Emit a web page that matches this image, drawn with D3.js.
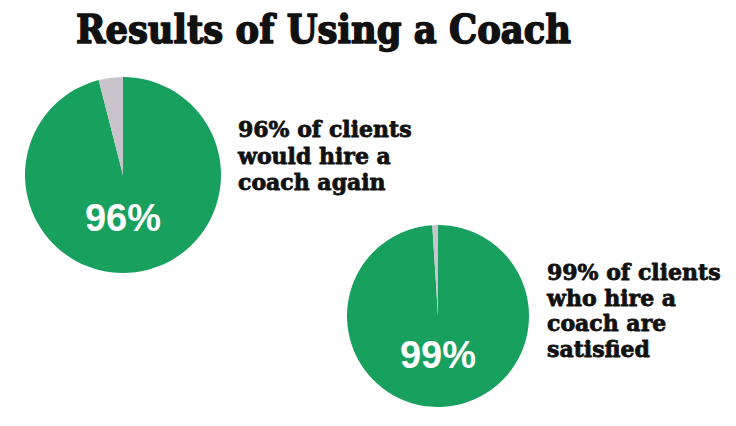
<!DOCTYPE html>
<html><head><meta charset="utf-8">
<script src="https://cdn.jsdelivr.net/npm/d3@7"></script>
<style>html,body{margin:0;padding:0;background:#fff;}svg{display:block;}</style>
</head><body>
<svg id="c" width="736" height="426"></svg>
<script>
const title = "Results of Using a Coach";
const categories = ["Would hire a coach again", "Satisfied with coach"];
const yesValues = [96, 99];
const noValues = [4, 1];
const centerLabels = ["96%", "99%"];
const captions = [
  ["96% of clients", "would hire a", "coach again"],
  ["99% of clients", "who hire a", "coach are", "satisfied"]
];

const layout = [
  {cx: 123, cy: 175, r: 98, lx: 238, ly: 137, ls: 26.5, textY: 231},
  {cx: 438, cy: 316, r: 91, lx: 547, ly: 280, ls: 25.7, textY: 368}
];
const colors = ["#18a05e", "#c9c4cc"];

const svg = d3.select("#c");
svg.append("rect").attr("width", 736).attr("height", 426).attr("fill", "#ffffff");

svg.append("text").attr("x", 76).attr("y", 43)
  .attr("font-family", "DejaVu Serif").attr("font-weight", "bold")
  .attr("font-size", 39).attr("fill", "#111")
  .attr("stroke", "#111").attr("stroke-width", 1.6).attr("stroke-linejoin", "round")
  .attr("textLength", 495).attr("lengthAdjust", "spacingAndGlyphs")
  .text(title);

const pie = d3.pie().sort(null).value(d => d);

categories.forEach((cat, i) => {
  const L = layout[i];
  const g = svg.append("g").attr("transform", `translate(${L.cx},${L.cy})`);
  const arc = d3.arc().innerRadius(0).outerRadius(L.r);
  g.selectAll("path").data(pie([yesValues[i], noValues[i]])).join("path")
    .attr("d", arc).attr("fill", (d, j) => colors[j]);
  svg.append("text").attr("x", L.cx).attr("y", L.textY)
    .attr("text-anchor", "middle")
    .attr("font-family", "Liberation Sans").attr("font-weight", "bold")
    .attr("font-size", 38).attr("fill", "#ffffff")
    .text(centerLabels[i]);
  const t = svg.append("text")
    .attr("font-family", "DejaVu Serif").attr("font-weight", "bold")
    .attr("font-size", 22).attr("fill", "#111")
    .attr("stroke", "#111").attr("stroke-width", 0.8).attr("stroke-linejoin", "round");
  captions[i].forEach((line, k) => {
    t.append("tspan").attr("x", L.lx).attr("y", L.ly + k * L.ls).text(line);
  });
});
</script>
</body></html>
